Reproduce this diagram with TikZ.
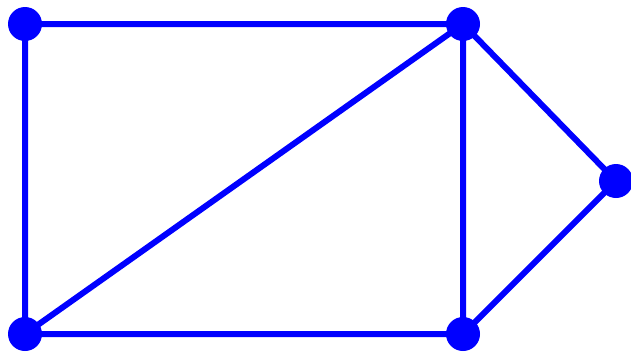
\documentclass[tikz,border=0pt]{standalone}
\begin{document}
\begin{tikzpicture}[x=1pt,y=-1pt,
  vtx/.style={circle,fill=blue,inner sep=0pt,minimum size=34pt},
  edge/.style={draw=blue,line width=6pt}]
\useasboundingbox (0,0) rectangle (631,354);
\node[vtx] (a) at (25,24) {};
\node[vtx] (b) at (463,24) {};
\node[vtx] (c) at (616,181) {};
\node[vtx] (d) at (463,334) {};
\node[vtx] (e) at (25,334) {};
\draw[edge] (a.center) -- (b.center) -- (c.center) -- (d.center) -- (e.center) -- (a.center);
\draw[edge] (e.center) -- (b.center) -- (d.center);
\end{tikzpicture}
\end{document}
